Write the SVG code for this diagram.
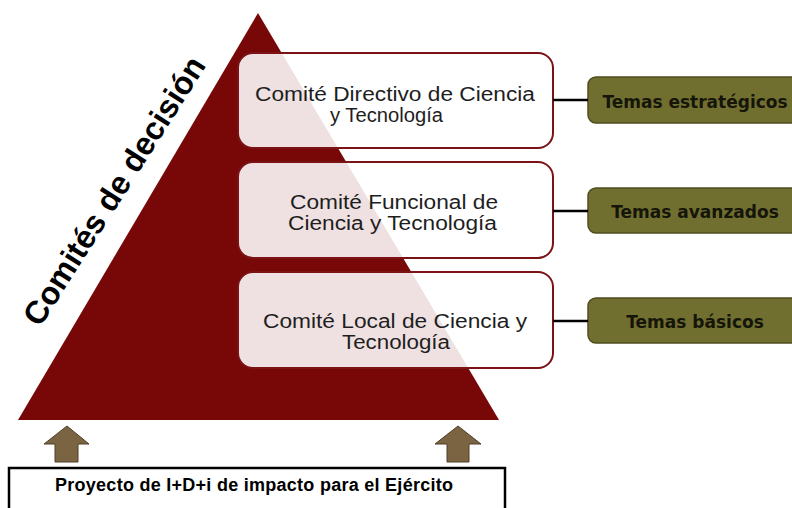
<svg xmlns="http://www.w3.org/2000/svg" width="792" height="508" viewBox="0 0 792 508">
<style>
.comite{fill:#ffffff;fill-opacity:0.88;stroke:#7a1216;stroke-width:2}
.ct{font-family:"Liberation Sans",Arial,sans-serif;font-size:19.5px;fill:#1e1e1e;text-anchor:middle}
.tema{fill:#716f30;stroke:#4f4d1f;stroke-width:1.5}
.tt{font-family:"DejaVu Sans",Verdana,sans-serif;font-weight:bold;font-size:17px;fill:#15150a;text-anchor:middle}
.link{stroke:#000;stroke-width:2.5;fill:none}
.up{fill:#7b6441;stroke:#4e3f28;stroke-width:1}
</style>
<rect width="792" height="508" fill="#ffffff"/>
<g id="piramide">
<polygon points="258,13 499,420 18,420" fill="#780808"/>
<text transform="translate(40,328) rotate(-57.6)" font-family="Liberation Sans, Arial, sans-serif" font-weight="bold" font-size="32" fill="#000">Comités de decisión</text>
</g>
<g id="comite-directivo">
<rect class="comite" x="238" y="53" width="315" height="95" rx="15"/>
<text class="ct" x="395" y="101" textLength="280" lengthAdjust="spacingAndGlyphs">Comité Directivo de Ciencia</text>
<text class="ct" x="386.5" y="122" textLength="113" lengthAdjust="spacingAndGlyphs">y Tecnología</text>
</g>
<g id="comite-funcional">
<rect class="comite" x="238" y="162" width="315" height="96" rx="15"/>
<text class="ct" x="394" y="208.5" textLength="208" lengthAdjust="spacingAndGlyphs">Comité Funcional de</text>
<text class="ct" x="392.5" y="229.5" textLength="209" lengthAdjust="spacingAndGlyphs">Ciencia y Tecnología</text>
</g>
<g id="comite-local">
<rect class="comite" x="238" y="272" width="315" height="96" rx="15"/>
<text class="ct" x="395" y="327.5" textLength="264" lengthAdjust="spacingAndGlyphs">Comité Local de Ciencia y</text>
<text class="ct" x="396" y="348.5" textLength="108" lengthAdjust="spacingAndGlyphs">Tecnología</text>
</g>
<g id="tema-estrategicos">
<rect class="tema" x="588" y="77" width="215" height="46" rx="8"/>
<text class="tt" x="695" y="108">Temas estratégicos</text>
</g>
<g id="tema-avanzados">
<rect class="tema" x="588" y="188" width="215" height="45" rx="8"/>
<text class="tt" x="695" y="218">Temas avanzados</text>
</g>
<g id="tema-basicos">
<rect class="tema" x="588" y="298" width="215" height="45" rx="8"/>
<text class="tt" x="695" y="328">Temas básicos</text>
</g>
<g id="proyecto">
<rect x="9" y="468" width="496" height="60" fill="#ffffff" stroke="#000" stroke-width="2.5"/>
<text x="254" y="490.5" font-family="Liberation Sans, Arial, sans-serif" font-weight="bold" font-size="18" fill="#000" text-anchor="middle" textLength="398">Proyecto de I+D+i de impacto para el Ejército</text>
</g>
<g id="connectors">
<line class="link" x1="553" y1="100" x2="588" y2="100"/>
<line class="link" x1="553" y1="211" x2="588" y2="211"/>
<line class="link" x1="553" y1="321" x2="588" y2="321"/>
<polygon class="up" points="67,426 89,444 78,444 78,462 55,462 55,444 44,444"/>
<polygon class="up" points="458,426 481,444 469,444 469,462 447,462 447,444 435,444"/>
</g>
</svg>
